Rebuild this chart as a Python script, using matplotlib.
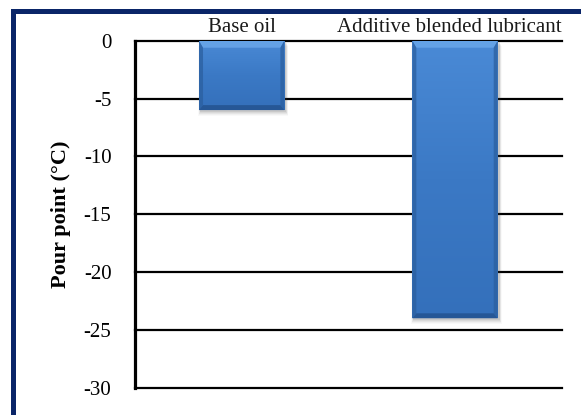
import numpy as np
import matplotlib
matplotlib.use("Agg")
import matplotlib.pyplot as plt
from matplotlib.patches import Rectangle, Polygon
from matplotlib.colors import LinearSegmentedColormap

# Pour point data (°C)
categories = ["Base oil", "Additive blended lubricant"]
pour_point = [-6, -24]
yticks = [0, -5, -10, -15, -20, -25, -30]
ytick_labels = ["0", "-5", "-10", "-15", "-20", "-25", "-30"]

plt.rcParams['font.family'] = ['Liberation Serif', 'DejaVu Serif']

W, H, DPI = 581, 415, 100
fig = plt.figure(figsize=(W / DPI, H / DPI), dpi=DPI)
fig.patch.set_facecolor('white')

# axes box in pixels
ax_l, ax_r, ax_t, ax_b = 135.0, 561.7, 40.7, 387.7
ax = fig.add_axes([ax_l / W, 1 - ax_b / H, (ax_r - ax_l) / W, (ax_b - ax_t) / H])

x = np.arange(len(categories))
ymin, ymax = min(yticks), max(yticks)
ax.set_xlim(-0.5, len(categories) - 0.5)
ax.set_ylim(ymin, ymax)
px_x = (ax_r - ax_l) / len(categories)      # pixels per category unit
px_y = (ax_b - ax_t) / (ymax - ymin)        # pixels per degree

# horizontal gridlines
for v in yticks:
    ax.axhline(v, color='black', lw=1.6, zorder=1, clip_on=False)

# bars
bar_w = 0.40
bars = ax.bar(x, pour_point, width=bar_w, color='#3c7bc8', linewidth=0, zorder=4)

grad = LinearSegmentedColormap.from_list('bar', ['#4a8ad6', '#3b79c5', '#3470bb'])
bev = 7.0  # bevel size, px
for rect in bars:
    x0 = rect.get_x()
    x1 = x0 + rect.get_width()
    y_top = rect.get_y()
    y_bot = y_top + rect.get_height()
    if y_bot > y_top:
        y_top, y_bot = y_bot, y_top

    # soft drop shadow
    for i, a in enumerate([0.10, 0.08, 0.06, 0.04, 0.03]):
        dx = (i + 1.0) / px_x
        dy = (i + 1.5) / px_y
        sh = Rectangle((x0 + 1.5 / px_x - dx * 0.5, y_bot - dy),
                       (x1 - x0) + dx, (y_top - y_bot),
                       facecolor='#404040', alpha=a, linewidth=0, zorder=3)
        ax.add_patch(sh)

    # vertical gradient fill clipped to the bar
    g = np.linspace(0, 1, 256).reshape(-1, 1)
    im = ax.imshow(g, cmap=grad, aspect='auto', extent=(x0, x1, y_bot, y_top),
                   origin='upper', zorder=5, interpolation='bilinear')
    im.set_clip_path(rect)

    by = bev / px_y
    sx = 4.0 / px_x
    sy_b = 5.0 / px_y
    # top bevel (light)
    ax.add_patch(Polygon([(x0, y_top), (x1, y_top), (x1 - sx, y_top - by), (x0 + sx, y_top - by)],
                         closed=True, facecolor='#6aa7ea', edgecolor='none', alpha=0.85, zorder=6))
    # side bevels (dark)
    ax.add_patch(Polygon([(x0, y_top), (x0 + sx, y_top - by), (x0 + sx, y_bot + sy_b), (x0, y_bot)],
                         closed=True, facecolor='#2b5f9f', edgecolor='none', alpha=0.75, zorder=6))
    ax.add_patch(Polygon([(x1, y_top), (x1 - sx, y_top - by), (x1 - sx, y_bot + sy_b), (x1, y_bot)],
                         closed=True, facecolor='#2b5f9f', edgecolor='none', alpha=0.75, zorder=6))
    # bottom bevel (dark)
    ax.add_patch(Polygon([(x0, y_bot), (x0 + sx, y_bot + sy_b), (x1 - sx, y_bot + sy_b), (x1, y_bot)],
                         closed=True, facecolor='#245390', edgecolor='none', alpha=0.85, zorder=6))

# spines
for s in ['top', 'right', 'bottom']:
    ax.spines[s].set_visible(False)
ax.spines['left'].set_linewidth(2.3)
ax.spines['left'].set_color('black')
ax.spines['left'].set_zorder(7)

ax.set_xticks([])
ax.set_yticks(yticks)
ax.set_yticklabels(ytick_labels)
ax.tick_params(axis='y', length=0, pad=17, labelsize=15, colors='black')

ax.set_ylabel("Pour point (°C)", fontsize=16, fontweight='bold')
ax.yaxis.set_label_coords(-0.150, 0.5)

# category labels above the plot, kept inside the axes width
labels = []
for xi, name in zip(x, categories):
    t = ax.text(xi, ymax + 3.5 / px_y, name, ha='center', va='bottom', fontsize=15,
                color='#1a1a1a', clip_on=False)
    labels.append(t)
fig.canvas.draw()
renderer = fig.canvas.get_renderer()
ax_bb = ax.get_window_extent(renderer)
for t in labels:
    bb = t.get_window_extent(renderer)
    if bb.x1 > ax_bb.x1:
        t.set_ha('right')
        t.set_x(ax.transData.inverted().transform((ax_bb.x1, 0))[0])

# dark blue frame (top and left edges visible)
frame = Rectangle((12.5 / W, -0.2), 1.3, (H - 11.5) / H + 0.2, transform=fig.transFigure,
                  fill=False, edgecolor='#0a2568', linewidth=5 * 72 / DPI, zorder=10)
fig.patches.append(frame)

fig.savefig("out.png", dpi=DPI)
